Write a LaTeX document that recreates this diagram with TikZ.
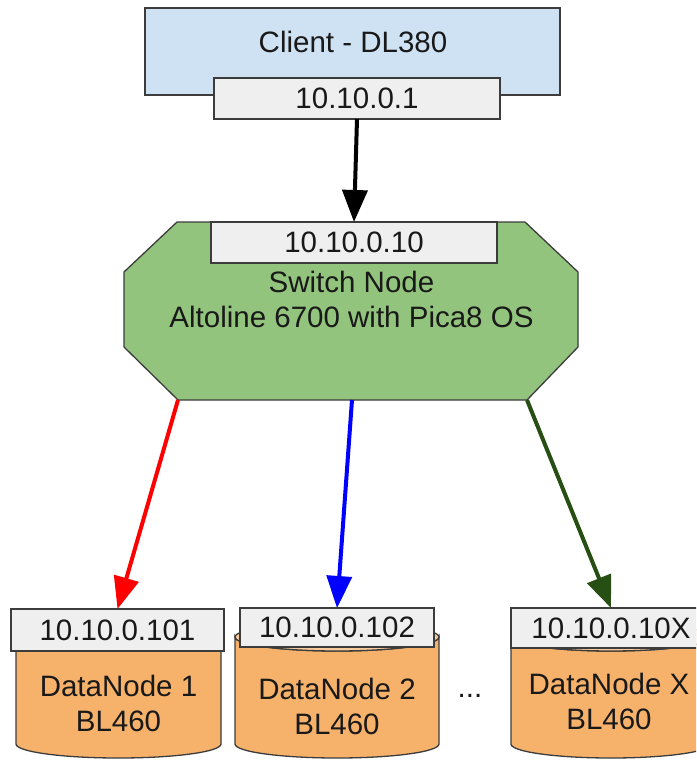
\documentclass[tikz,border=0pt]{standalone}
\usepackage{fontspec}
\setmainfont{Liberation Sans}
\usetikzlibrary{arrows.meta}
\definecolor{clientblue}{HTML}{CFE2F3}
\definecolor{ipgray}{HTML}{EFEFEF}
\definecolor{switchgreen}{HTML}{93C47D}
\definecolor{cylorange}{HTML}{F6B26B}
\definecolor{cyltopcol}{HTML}{F9CB9C}
\definecolor{bordergray}{HTML}{3C3C3C}
\definecolor{darkgreen}{HTML}{274E13}
\begin{document}
\begin{tikzpicture}[x=1pt,y=1pt,
  every node/.style={font=\fontsize{29.5pt}{35pt}\selectfont, inner sep=0pt, outer sep=0pt, text=black!90},
  frame/.style={draw=bordergray, line width=1.3pt},
  clientbox/.style={frame, fill=clientblue},
  ipbox/.style={frame, fill=ipgray},
  switchbox/.style={frame, fill=switchgreen},
  cylbody/.style={frame, fill=cylorange},
  cyltop/.style={frame, fill=cyltopcol},
  link/.style={line width=4pt, -{Triangle[length=32pt,width=25pt]}}
]
\useasboundingbox (0,0) rectangle (696,-760);
\clip (0,0) rectangle (696,-760);

% Client
\node[clientbox, minimum width=415pt, minimum height=87pt] (client) at (352.5,-51.5) {};
\node (clientlabel) at (353,-42) {Client - DL380};
\node[ipbox, minimum width=286pt, minimum height=41pt] (cip) at (357,-98.5) {10.10.0.1};

% Switch
\draw[switchbox] (177,-222) -- (124,-272) -- (124,-347) -- (178,-400) coordinate (swL)
  -- (527,-400) coordinate (swR) -- (578,-347) -- (578,-272) -- (525,-222) -- cycle;
\coordinate (swM) at (352,-400);
\node[ipbox, minimum width=286pt, minimum height=41pt] (sip) at (354,-242.5) {10.10.0.10};
\node[align=center] (switch) at (351.5,-299.5) {Switch Node\\Altoline 6700 with Pica8 OS};

% DataNode 1
\draw[cylbody] (16,-637) -- (16,-744) arc[start angle=180,end angle=360,x radius=102.5pt,y radius=14pt]
  -- (221,-637) arc[start angle=0,end angle=-180,x radius=102.5pt,y radius=14pt] -- cycle;
\draw[cyltop] (118.5,-637) ellipse [x radius=102.5pt, y radius=14pt];
\node[ipbox, minimum width=213pt, minimum height=42pt] (ip1) at (117.5,-630) {10.10.0.101};
\node[align=center] (dn1) at (118.5,-703) {DataNode 1\\BL460};

% DataNode 2
\draw[cylbody] (235,-637) -- (235,-744) arc[start angle=180,end angle=360,x radius=102pt,y radius=14pt]
  -- (439,-637) arc[start angle=0,end angle=-180,x radius=102pt,y radius=14pt] -- cycle;
\draw[cyltop] (337,-637) ellipse [x radius=102pt, y radius=14pt];
\node[ipbox, minimum width=194pt, minimum height=39pt] (ip2) at (337,-627.5) {10.10.0.102};
\node[align=center] (dn2) at (337,-706.5) {DataNode 2\\BL460};

% dots
\node[anchor=base] (dots) at (470,-697) {...};

% DataNode X
\draw[cylbody] (511,-637) -- (511,-744) arc[start angle=180,end angle=360,x radius=100pt,y radius=14pt]
  -- (711,-637) arc[start angle=0,end angle=-180,x radius=100pt,y radius=14pt] -- cycle;
\draw[cyltop] (611,-637) ellipse [x radius=100pt, y radius=14pt];
\node[ipbox, minimum width=200pt, minimum height=40pt] (ipx) at (611,-628) {10.10.0.10X};
\node[align=center] (dnx) at (609,-701) {DataNode X\\BL460};

% Connectors
\draw[link, black] (cip.south) -- (sip.north);
\draw[link, red] (swL) -- (ip1.north);
\draw[link, blue] (swM) -- (ip2.north);
\draw[link, darkgreen] (swR) -- (ipx.north);
\end{tikzpicture}
\end{document}
